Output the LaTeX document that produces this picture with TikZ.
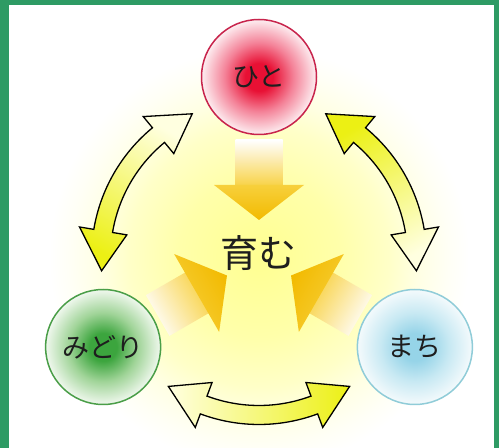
\documentclass[tikz,border=0pt]{standalone}
\usepackage{fontspec}
\newfontfamily\jp{Noto Sans CJK JP}
\usetikzlibrary{calc}
\definecolor{framegreen}{RGB}{46,155,100}
\definecolor{glowA}{RGB}{255,255,145}
\definecolor{glowB}{RGB}{255,255,170}
\definecolor{glowC}{RGB}{255,255,200}
\definecolor{glowD}{RGB}{255,255,228}
\definecolor{glowE}{RGB}{255,255,246}
\definecolor{shaftgold}{RGB}{248,210,70}
\definecolor{headlight}{RGB}{247,208,60}
\definecolor{headgold}{RGB}{242,186,0}
\definecolor{arrowpale}{RGB}{255,255,224}
\definecolor{arrowbright}{RGB}{236,240,20}
\definecolor{redA}{RGB}{232,16,52}
\definecolor{redB}{RGB}{244,130,152}
\definecolor{redC}{RGB}{253,238,241}
\definecolor{redline}{RGB}{200,36,76}
\definecolor{greenA}{RGB}{60,165,62}
\definecolor{greenB}{RGB}{160,212,152}
\definecolor{greenC}{RGB}{240,248,238}
\definecolor{greenline}{RGB}{74,158,72}
\definecolor{blueA}{RGB}{150,212,232}
\definecolor{blueB}{RGB}{200,233,243}
\definecolor{blueC}{RGB}{244,250,252}
\definecolor{blueline}{RGB}{144,204,216}
\definecolor{textdark}{RGB}{30,30,30}
% radial shadings: 25bp corresponds to the bounding box half-size
\pgfdeclareradialshading{glow}{\pgfpoint{0bp}{0bp}}{color(0bp)=(glowA); color(8bp)=(glowB); color(13bp)=(glowC); color(16bp)=(glowD); color(19bp)=(glowE); color(21bp)=(white); color(50bp)=(white)}
\pgfdeclareradialshading{redball}{\pgfpoint{0bp}{0bp}}{color(0bp)=(redA); color(6bp)=(redA); color(15bp)=(redB); color(25bp)=(redC); color(50bp)=(redC)}
\pgfdeclareradialshading{greenball}{\pgfpoint{0bp}{0bp}}{color(0bp)=(greenA); color(6bp)=(greenA); color(15bp)=(greenB); color(25bp)=(greenC); color(50bp)=(greenC)}
\pgfdeclareradialshading{blueball}{\pgfpoint{0bp}{0bp}}{color(0bp)=(blueA); color(6bp)=(blueA); color(15bp)=(blueB); color(25bp)=(blueC); color(50bp)=(blueC)}
\tikzset{
  ball/.style={circle, minimum size=115pt, inner sep=0pt, line width=1.5pt, text=textdark, font=\jp\fontsize{27}{30}\selectfont},
  dblarrow/.style={draw=black, line width=1.3pt, line join=miter, left color=arrowpale, right color=arrowbright},
  centertext/.style={text=textdark, font=\jp\fontsize{38}{42}\selectfont, inner sep=0pt}
}
\begin{document}
\begin{tikzpicture}[x=1pt,y=1pt]
\useasboundingbox (0,0) rectangle (499,448);
\fill[white] (0,0) rectangle (499,448);
\coordinate (C) at (259,191);
% glow
\begin{scope}
  \clip (9,0) rectangle (494,443);
  \shade[shading=glow] ($(C)+(-250,-250)$) rectangle ($(C)+(250,250)$);
\end{scope}
% orange arrows pointing to the centre
\foreach \d/\s in {90/0,210/120,330/-120}{
  \shade[top color=white, bottom color=shaftgold, shading angle=\s]
    ($(C)+(\d:117)+(\d-90:23.5)$) -- ($(C)+(\d:117)+(\d+90:23.5)$) --
    ($(C)+(\d:71)+(\d+90:23.5)$) -- ($(C)+(\d:71)+(\d-90:23.5)$) -- cycle;
  \shade[top color=headlight, bottom color=headgold, shading angle=\s]
    ($(C)+(\d:72)+(\d-90:45)$) -- ($(C)+(\d:72)+(\d+90:45)$) --
    ($(C)+(\d:37)$) -- cycle;
}
% curved double arrows
\foreach \c/\s in {270/90,150/-30,30/-150}{
  \path[dblarrow, shading angle=\s]
    ($(C)+(\c-35:158)$) -- ($(C)+(\c-20.5:182)$) -- ($(C)+(\c-20.5:167.5)$)
    arc[start angle=\c-20.5, end angle=\c+20.5, radius=167.5]
    -- ($(C)+(\c+20.5:182)$) -- ($(C)+(\c+35:158)$) -- ($(C)+(\c+20.5:134)$)
    -- ($(C)+(\c+20.5:148.5)$)
    arc[start angle=\c+20.5, end angle=\c-20.5, radius=148.5]
    -- ($(C)+(\c-20.5:134)$) -- cycle;
}
% circles
\node[ball, draw=redline, shading=redball] (hito) at ($(C)+(90:180)$) {ひと};
\node[ball, draw=greenline, shading=greenball] (midori) at ($(C)+(210:180)$) {みどり};
\node[ball, draw=blueline, shading=blueball] (machi) at ($(C)+(330:180)$) {まち};
% centre text
\node[centertext] (hagukumu) at (258,195) {育む};
% frame
\fill[framegreen] (0,0) rectangle (9,448);
\fill[framegreen] (0,443) rectangle (499,448);
\fill[framegreen] (494,0) rectangle (499,448);
\end{tikzpicture}
\end{document}
